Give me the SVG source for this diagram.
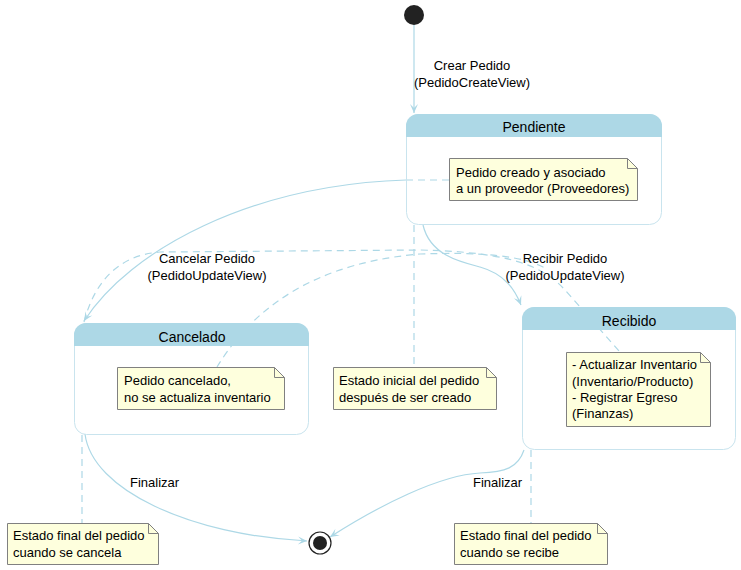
<svg xmlns="http://www.w3.org/2000/svg" width="741" height="570" viewBox="0 0 741 570">
<style>
.t{font-family:"Liberation Sans",Arial,sans-serif;font-size:13px;fill:#000}
.ttl{font-family:"Liberation Sans",Arial,sans-serif;font-size:14px;fill:#000;text-anchor:middle}
.c{text-anchor:middle}
.ln{fill:none;stroke:#ADD8E6;stroke-width:1.2}
.ds{fill:none;stroke:#ADD8E6;stroke-width:1.2;stroke-dasharray:7,5}
.body{fill:none;stroke:#C9E4EE;stroke-width:1}
.hdr{fill:#ADD8E6}
.note{fill:#FEFFDD;stroke:#808080;stroke-width:1}
.fold{fill:none;stroke:#808080;stroke-width:1}
</style>
<defs>
<marker id="arr" viewBox="-10 -5 11 10" refX="0" refY="0" markerWidth="11" markerHeight="10" markerUnits="userSpaceOnUse" orient="auto">
<path d="M0,0 L-9,-4 L-5,0 L-9,4 Z" fill="#ADD8E6"/>
</marker>
</defs>
<rect width="741" height="570" fill="#fff"/>
<g id="connectors">
<path class="ln" d="M414,25 V113" marker-end="url(#arr)"/>
<path class="ln" d="M406,180 C250,185 130,250 84,321" marker-end="url(#arr)"/>
<path class="ln" d="M423,225 C430,255 460,262 480,267 C505,274 515,290 521,305" marker-end="url(#arr)"/>
<path class="ln" d="M85,434 C92,490 190,535 307,541" marker-end="url(#arr)"/>
<path class="ln" d="M524,450 C518,468 505,472 480,473 C440,475 380,505 330,537" marker-end="url(#arr)"/>
<path class="ds" d="M406,180 H449"/>
<path class="ds" d="M414,225 V367"/>
<path class="ds" d="M84,322 C95,280 120,255 160,252 L420,250 C500,252 540,262 565,290 L620,352"/>
<path class="ds" d="M217,367 C240,330 290,265 420,254 C480,252 520,255 545,268"/>
<path class="ds" d="M82,435 V523"/>
<path class="ds" d="M531,450 V523"/>
<text class="t c" x="472" y="70">Crear Pedido</text>
<text class="t c" x="472" y="87">(PedidoCreateView)</text>
<text class="t c" x="207" y="263">Cancelar Pedido</text>
<text class="t c" x="207" y="280">(PedidoUpdateView)</text>
<text class="t c" x="565" y="263">Recibir Pedido</text>
<text class="t c" x="565" y="280">(PedidoUpdateView)</text>
<text class="t" x="130" y="487">Finalizar</text>
<text class="t" x="473" y="487">Finalizar</text>
</g>
<g id="initial"><circle cx="414" cy="15" r="10" fill="#222"/></g>
<g id="final"><circle cx="320" cy="543" r="11" fill="#fff" stroke="#222" stroke-width="1.2"/><circle cx="320" cy="543" r="7" fill="#222"/></g>
<g id="pendiente">
<rect class="body" x="406.5" y="114.5" width="255" height="110" rx="12"/>
<path class="hdr" d="M406,137 V126 A12,12 0 0 1 418,114 H650 A12,12 0 0 1 662,126 V137 Z"/>
<text class="ttl" x="534" y="132">Pendiente</text>
</g>
<g id="cancelado">
<rect class="body" x="74.5" y="323.5" width="234" height="111" rx="12"/>
<path class="hdr" d="M74,346 V335 A12,12 0 0 1 86,323 H297 A12,12 0 0 1 309,335 V346 Z"/>
<text class="ttl" x="192" y="342">Cancelado</text>
</g>
<g id="recibido">
<rect class="body" x="522.5" y="307.5" width="213" height="142" rx="12"/>
<path class="hdr" d="M522,330 V319 A12,12 0 0 1 534,307 H724 A12,12 0 0 1 736,319 V330 Z"/>
<text class="ttl" x="629" y="326">Recibido</text>
</g>
<g id="note-pendiente">
<path class="note" d="M449.5,158.5 H627.5 L637.5,168.5 V200.5 H449.5 Z"/>
<path class="fold" d="M627.5,158.5 V168.5 H637.5"/>
<text class="t" x="456" y="177">Pedido creado y asociado</text>
<text class="t" x="456" y="193">a un proveedor (Proveedores)</text>
</g>
<g id="note-cancelado">
<path class="note" d="M117.5,367.5 H274.5 L284.5,377.5 V409.5 H117.5 Z"/>
<path class="fold" d="M274.5,367.5 V377.5 H284.5"/>
<text class="t" x="124" y="385">Pedido cancelado,</text>
<text class="t" x="124" y="402">no se actualiza inventario</text>
</g>
<g id="note-inicial">
<path class="note" d="M333.5,367.5 H486.5 L496.5,377.5 V409.5 H333.5 Z"/>
<path class="fold" d="M486.5,367.5 V377.5 H496.5"/>
<text class="t" x="339" y="385">Estado inicial del pedido</text>
<text class="t" x="339" y="402">después de ser creado</text>
</g>
<g id="note-recibido">
<path class="note" d="M566.5,352.5 H700.5 L710.5,362.5 V426.5 H566.5 Z"/>
<path class="fold" d="M700.5,352.5 V362.5 H710.5"/>
<text class="t" x="572" y="369">- Actualizar Inventario</text>
<text class="t" x="572" y="386">(Inventario/Producto)</text>
<text class="t" x="572" y="402">- Registrar Egreso</text>
<text class="t" x="572" y="418">(Finanzas)</text>
</g>
<g id="note-final-cancela">
<path class="note" d="M7.5,523.5 H148.5 L158.5,533.5 V564.5 H7.5 Z"/>
<path class="fold" d="M148.5,523.5 V533.5 H158.5"/>
<text class="t" x="13" y="540">Estado final del pedido</text>
<text class="t" x="13" y="557">cuando se cancela</text>
</g>
<g id="note-final-recibe">
<path class="note" d="M454.5,523.5 H597.5 L607.5,533.5 V564.5 H454.5 Z"/>
<path class="fold" d="M597.5,523.5 V533.5 H607.5"/>
<text class="t" x="460" y="540">Estado final del pedido</text>
<text class="t" x="460" y="557">cuando se recibe</text>
</g>
</svg>
